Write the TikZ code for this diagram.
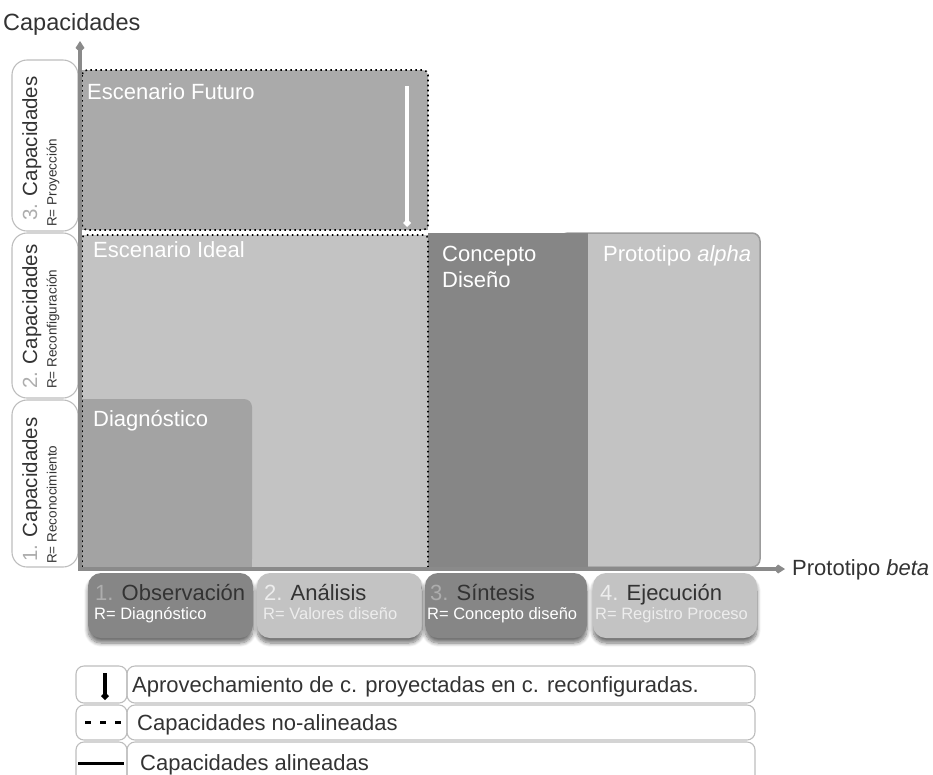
\documentclass[tikz,border=0pt]{standalone}
\usepackage{fontspec}
\setmainfont{Liberation Sans}
\usetikzlibrary{arrows.meta,shadows,shadows.blur}

\definecolor{futuro}{HTML}{AAAAAA}
\definecolor{ideal}{HTML}{C3C3C3}
\definecolor{diag}{HTML}{A3A3A3}
\definecolor{darkfill}{HTML}{868686}
\definecolor{axisgray}{HTML}{8A8A8A}
\definecolor{ink}{HTML}{333333}
\definecolor{numdark}{HTML}{ADADAD}
\definecolor{numlight}{HTML}{EDEDED}
\definecolor{framegray}{HTML}{BDBDBD}
\definecolor{edgegray}{HTML}{9C9C9C}

\begin{document}
\begin{tikzpicture}[x=1pt,y=-1pt,
  sidebox/.style={draw=framegray, line width=1.1pt, rounded corners=15pt},
  sidetitle/.style={rotate=90, anchor=base west, inner sep=0pt, text=ink,
    font=\fontsize{20.5}{24}\selectfont},
  sidesub/.style={rotate=90, anchor=base west, inner sep=0pt, text=ink,
    font=\fontsize{13.5}{16}\selectfont},
  boxtitle/.style={anchor=base west, inner sep=0pt, text=white,
    font=\fontsize{22}{26}\selectfont},
  dotline/.style={draw=black, line width=1.6pt, dash pattern=on 1.6pt off 3.4pt},
  axisline/.style={draw=axisgray, line width=4pt,
    -{Kite[length=11pt,width=9pt,inset=4pt]}},
  phase/.style={rectangle, rounded corners=13pt, minimum height=65pt,
    inner sep=0pt, blur shadow={shadow xshift=0pt, shadow yshift=-5pt,
    shadow blur steps=8, shadow blur radius=4pt, shadow opacity=55}},
  ptitle/.style={anchor=base west, inner sep=0pt, text=ink,
    font=\fontsize{22}{26}\selectfont},
  psub/.style={anchor=base west, inner sep=0pt, text=white,
    font=\fontsize{16.5}{20}\selectfont},
  legbox/.style={draw=framegray, line width=1.1pt, rounded corners=8pt},
  legtext/.style={anchor=base west, inner sep=0pt, text=ink,
    font=\fontsize{22}{26}\selectfont},
  plain/.style={anchor=base west, inner sep=0pt, text=ink,
    font=\fontsize{23.5}{28}\selectfont}
]
\useasboundingbox (0,0) rectangle (933,774);
\clip (0,0) rectangle (933,774);

% axis titles
\node[plain] (ytitle) at (3,30) {Capacidades};
\node[plain, font=\fontsize{22}{26}\selectfont] (xtitle) at (792,575) {Prototipo \textit{beta}};

% capability levels on the left
\draw[sidebox] (12,60) rectangle (78,231);
\draw[sidebox] (12,233) rectangle (78,398);
\draw[sidebox] (12,400) rectangle (78,567);
\node[sidetitle] (c3) at (37,221) {\textcolor{numdark}{3.} Capacidades};
\node[sidesub] (r3) at (56.5,227) {R= Proyección};
\node[sidetitle] (c2) at (37,389) {\textcolor{numdark}{2.} Capacidades};
\node[sidesub] (r2) at (56.5,389) {R= Reconfiguración};
\node[sidetitle] (c1) at (37,562) {\textcolor{numdark}{1.} Capacidades};
\node[sidesub] (r1) at (56.5,564) {R= Reconocimiento};

% scenario areas
\draw[fill=ideal, draw=edgegray, line width=1.5pt, rounded corners=8pt] (560,233) rectangle (760,567);
\fill[ideal] (82,235) rectangle (429,567);
\fill[darkfill] (428,233) rectangle (588,567);
\fill[diag, rounded corners=8pt] (82,399) rectangle (252,567);
\fill[diag] (82,399) rectangle (110,567);
\fill[diag] (82,540) rectangle (252,567);
\fill[futuro, rounded corners=6pt] (82,70) rectangle (428,230);
\fill[futuro] (82,70) rectangle (120,230);
\fill[futuro] (82,200) rectangle (428,230);

% non-aligned capacities
\draw[dotline, rounded corners=5pt] (82,70) rectangle (428,230);
\draw[dotline, rounded corners=4pt] (82,567) |- (428,235) -- (428,567);

% projected capacities reused downwards
\coordinate (wtop) at (407,86);
\coordinate (wbot) at (407,227);
\draw[white, line width=3.5pt, -{Kite[length=8pt,width=8pt,inset=4pt]}] (wtop) -- (wbot);

\node[boxtitle] (futT) at (87,99) {Escenario Futuro};
\node[boxtitle] (ideT) at (93,257) {Escenario Ideal};
\node[boxtitle] (diaT) at (93,426) {Diagnóstico};
\node[boxtitle] (conT1) at (442,261) {Concepto};
\node[boxtitle] (conT2) at (442,287) {Diseño};
\node[boxtitle] (proT) at (603,261) {Prototipo \textit{alpha}};

% axes
\coordinate (O) at (80,569);
\coordinate (ytop) at (80,41);
\coordinate (xend) at (785,569);
\draw[axisline] (O) -- (ytop);
\draw[axisline] ([xshift=-2pt]O) -- (xend);

% phases
\node[phase, fill=darkfill, minimum width=165pt] (obs) at (170.5,605.5) {};
\node[phase, fill=ideal, minimum width=165pt] (ana) at (339.5,605.5) {};
\node[phase, fill=darkfill, minimum width=162pt] (sin) at (506,605.5) {};
\node[phase, fill=ideal, minimum width=164pt] (eje) at (675,605.5) {};

\node[ptitle] (obsT) at (95,600) {\textcolor{numdark}{1.} Observación};
\node[psub] (obsR) at (94,619) {R= Diagnóstico};
\node[ptitle] (anaT) at (264,600) {\textcolor{numlight}{2.} Análisis};
\node[psub, text=numlight] (anaR) at (263,619) {R= Valores diseño};
\node[ptitle] (sinT) at (430,600) {\textcolor{numdark}{3.} Síntesis};
\node[psub] (sinR) at (427,619) {R= Concepto diseño};
\node[ptitle] (ejeT) at (600,600) {\textcolor{numlight}{4.} Ejecución};
\node[psub, text=numlight] (ejeR) at (595,619) {R= Registro Proceso};

% legend
\draw[legbox] (76,666) rectangle (127,703);
\draw[legbox] (127,666) rectangle (755,703);
\draw[legbox] (76,705) rectangle (127,740);
\draw[legbox] (127,705) rectangle (755,740);
\draw[legbox] (76,742) rectangle (127,790);
\draw[legbox] (127,742) rectangle (755,790);

\coordinate (la1) at (105,673);
\coordinate (la2) at (105,700);
\draw[black, line width=4pt, -{Kite[length=8pt,width=8pt,inset=4pt]}] (la1) -- (la2);
\coordinate (ld1) at (85,722);
\coordinate (ld2) at (122,722);
\draw[black, line width=3pt, dash pattern=on 6pt off 9pt] (ld1) -- (ld2);
\coordinate (ls1) at (78,763);
\coordinate (ls2) at (124,763);
\draw[black, line width=3pt] (ls1) -- (ls2);

\node[legtext] (leg1) at (132,692) {Aprovechamiento de c. proyectadas en c. reconfiguradas.};
\node[legtext] (leg2) at (137,730) {Capacidades no-alineadas};
\node[legtext] (leg3) at (140,770) {Capacidades alineadas};
\end{tikzpicture}
\end{document}
